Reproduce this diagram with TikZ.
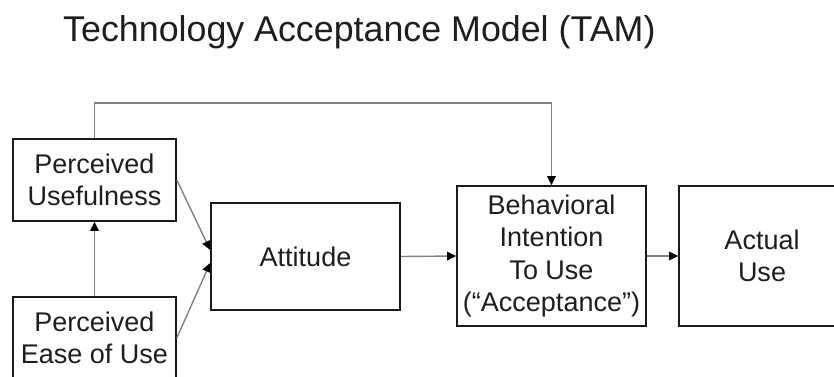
\documentclass[tikz,border=0pt]{standalone}
\usepackage{fontspec}
\setmainfont{Liberation Sans}
\usetikzlibrary{arrows.meta,calc}
\definecolor{boxline}{HTML}{1A1A1A}
\definecolor{conn}{HTML}{808080}
\definecolor{txt}{HTML}{1E1E1E}
\begin{document}
\begin{tikzpicture}[x=1pt,y=-1pt,
  box/.style={draw=boxline,line width=1.6pt,rectangle,align=center,inner sep=0pt,
    text=txt,font=\fontsize{27}{32.5}\selectfont},
  arr/.style={draw=conn,line width=1.4pt,-{Triangle[length=9pt,width=8.5pt,fill=black,color=black]}},
  plain/.style={draw=conn,line width=1.4pt}]
\useasboundingbox[fill=white] (0,0) rectangle (834,376);
\begin{scope}
\clip (0,0) rectangle (834,376);
\node[anchor=base west,text=txt,font=\fontsize{35.8}{40}\selectfont,inner sep=0pt] (title) at (63,41.7) {Technology Acceptance Model (TAM)};
\node[box,minimum width=163pt,minimum height=82pt] (PU) at (94.5,180) {Perceived\\Usefulness};
\node[box,minimum width=163pt,minimum height=82pt] (PEU) at (94.5,338) {Perceived\\Ease of Use};
\node[box,minimum width=189pt,minimum height=107pt] (ATT) at (305.5,256.5) {Attitude};
\node[box,minimum width=189pt,minimum height=140pt] (BI) at (551.5,256) {Behavioral\\Intention\\To Use\\(“Acceptance”)};
\node[box,minimum width=166pt,minimum height=140pt] (AU) at (762,256) {Actual\\Use};
\coordinate (top) at (0,103);
\coordinate (attin1) at ($(ATT.west)+(0,-6.5)$);
\coordinate (attin2) at ($(ATT.west)+(0,6.5)$);
\draw[arr] (PU.north) -- (PU.north |- top) -| (BI.north);
\draw[arr] (PEU.north) -- (PU.south);
\draw[arr] (PU.east) -- (attin1);
\draw[arr] (PEU.east) -- (attin2);
\draw[arr] (ATT.east) -- (BI.west);
\draw[arr] (BI.east) -- (AU.west);
\end{scope}
\end{tikzpicture}
\end{document}
